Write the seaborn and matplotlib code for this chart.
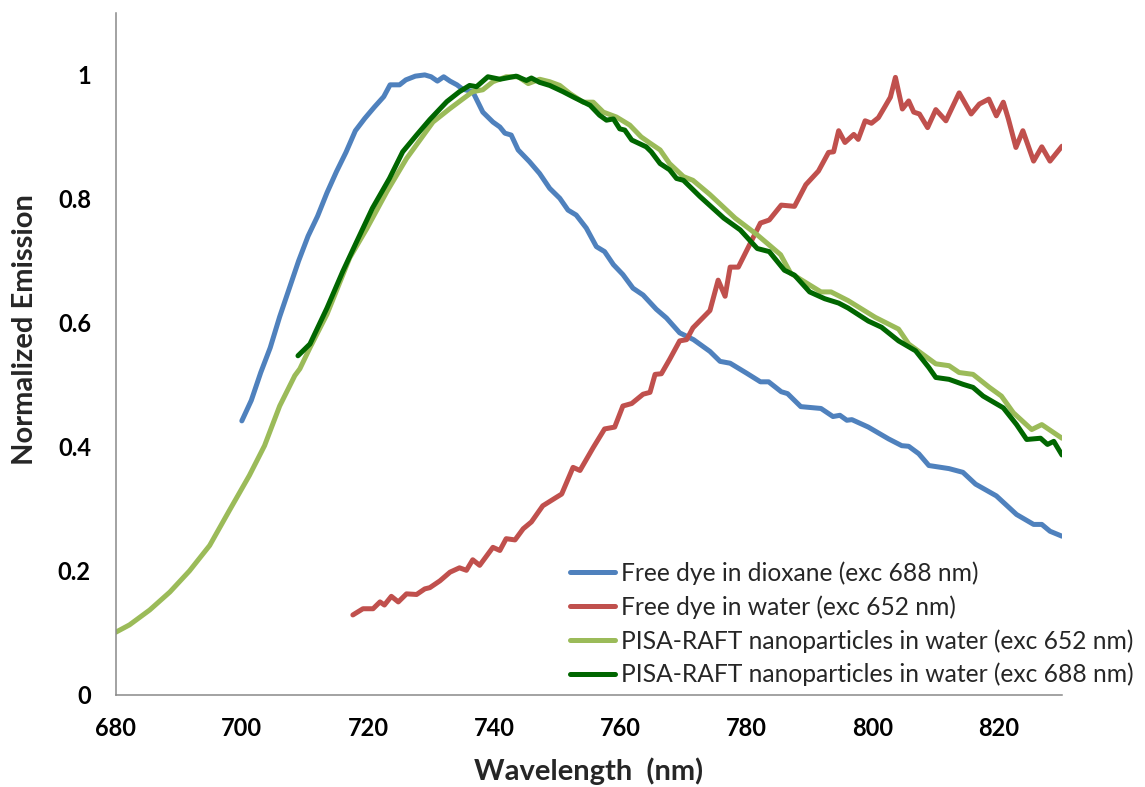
import matplotlib
matplotlib.use("Agg")
import matplotlib.pyplot as plt
import seaborn as sns
import pandas as pd

# Free dye in dioxane (exc 688 nm)
dioxane_nm = [700, 701.5, 703, 704.5, 706, 707.5, 709, 710.5, 712, 713.5, 715, 716.5, 718, 719.5,
              721, 722.5, 723.5, 725, 726, 727.5, 729, 730, 731, 732, 733, 734.1, 735, 736.6,
              738.2, 739.8, 740.9, 741.7, 742.7, 743.8, 745.6, 747.2, 748.8, 750.4, 751.7, 753,
              754.6, 756.2, 757.5, 758.9, 760.4, 762, 763.6, 765.7, 767.3, 769.4, 771.6, 774.2,
              775.8, 777.4, 780, 782.2, 783.5, 785.5, 786.5, 788.6, 791.8, 793.7, 794.8, 795.9,
              796.7, 799.3, 802.5, 804.6, 805.7, 807.3, 808.9, 812.1, 814.3, 816.3, 819.6, 822.8,
              825.5, 826.8, 828.1, 830]
dioxane_em = [0.442, 0.475, 0.52, 0.56, 0.61, 0.655, 0.70, 0.74, 0.772, 0.81, 0.844, 0.875, 0.91, 0.93,
              0.948, 0.965, 0.984, 0.984, 0.992, 0.998, 1.0, 0.997, 0.99, 0.997, 0.99, 0.984, 0.977, 0.973,
              0.94, 0.924, 0.916, 0.906, 0.903, 0.879, 0.86, 0.841, 0.817, 0.801, 0.782, 0.774,
              0.753, 0.723, 0.715, 0.694, 0.678, 0.656, 0.645, 0.622, 0.608, 0.584, 0.573, 0.554,
              0.538, 0.535, 0.519, 0.505, 0.505, 0.489, 0.486, 0.465, 0.462, 0.449, 0.451, 0.443,
              0.444, 0.432, 0.413, 0.402, 0.401, 0.389, 0.37, 0.365, 0.359, 0.34, 0.321, 0.291,
              0.275, 0.275, 0.264, 0.256]

# Free dye in water (exc 652 nm)
water_nm = [717.6, 719.2, 720.8, 721.9, 722.6, 723.7, 724.8, 726.1, 727.7, 729, 729.8, 731.4, 733,
            734.5, 735.6, 736.6, 737.7, 739.8, 740.9, 741.9, 743.3, 744.6, 745.9, 747.7, 749.9,
            750.7, 752.5, 753.6, 755.7, 757.5, 759.1, 760.4, 761.8, 763.6, 764.7, 765.5, 766.5,
            767.8, 769.4, 770.5, 771.5, 774.2, 775.5, 776.6, 777.4, 778.7, 782.2, 783.6, 785.5,
            787.6, 789.4, 791.4, 793, 793.8, 794.6, 795.6, 797, 797.7, 798.8, 799.8, 800.9, 802,
            802.8, 803.6, 804.7, 805.7, 806.5, 807.4, 808.7, 810, 811.6, 813.7, 815.6, 816.9,
            818.4, 819.6, 820.7, 821.5, 822.7, 823.8, 825.5, 826.8, 828.1, 830]
water_em = [0.129, 0.139, 0.139, 0.15, 0.145, 0.159, 0.15, 0.163, 0.162, 0.171, 0.173, 0.184, 0.198,
            0.205, 0.201, 0.218, 0.209, 0.238, 0.233, 0.252, 0.25, 0.268, 0.279, 0.305, 0.319,
            0.324, 0.367, 0.362, 0.399, 0.429, 0.432, 0.466, 0.47, 0.485, 0.488, 0.517, 0.518,
            0.541, 0.571, 0.573, 0.592, 0.62, 0.669, 0.643, 0.69, 0.69, 0.761, 0.766, 0.79,
            0.788, 0.823, 0.845, 0.875, 0.876, 0.91, 0.891, 0.904, 0.896, 0.926, 0.922, 0.931, 0.95,
            0.964, 0.996, 0.945, 0.958, 0.94, 0.937, 0.915, 0.944, 0.926, 0.971, 0.937, 0.953,
            0.961, 0.934, 0.956, 0.929, 0.883, 0.91, 0.861, 0.884, 0.861, 0.885]

# PISA-RAFT nanoparticles in water (exc 652 nm)
np652_nm = [680, 682.2, 685.4, 688.6, 691.7, 694.9, 698, 701.2, 703.6, 706, 708.4, 709.2, 710.8,
            713.5, 717.1, 719.8, 723, 726.1, 730.3, 732.9, 735, 736.6, 738.2, 739.8, 741.9, 743.8,
            745.4, 747.2, 748.8, 750.4, 752, 754.1, 755.7, 757.3, 759.4, 761.5, 763.3, 764.7,
            766.3, 767.8, 770, 771.5, 774.2, 778.2, 781.7, 785.4, 787, 791.8, 793.4, 796.1, 800.4,
            804.1, 805.7, 810, 812.1, 813.7, 815.9, 818.5, 820.4, 822.3, 825.2, 826.8, 830]
np652_em = [0.101, 0.113, 0.137, 0.166, 0.2, 0.241, 0.297, 0.354, 0.402, 0.466, 0.515, 0.526, 0.56,
            0.614, 0.705, 0.752, 0.812, 0.865, 0.924, 0.945, 0.961, 0.973, 0.976, 0.989, 0.997, 0.997,
            0.986, 0.993, 0.989, 0.983, 0.97, 0.956, 0.956, 0.94, 0.932, 0.919, 0.9, 0.89,
            0.879, 0.857, 0.836, 0.83, 0.807, 0.769, 0.742, 0.71, 0.68, 0.65, 0.65, 0.636, 0.609,
            0.59, 0.566, 0.534, 0.531, 0.52, 0.517, 0.496, 0.482, 0.455, 0.428, 0.436, 0.414]

# PISA-RAFT nanoparticles in water (exc 688 nm)
np688_nm = [708.9, 710.8, 713.5, 716, 718.2, 720.7, 723.4, 725.5, 727.7, 729.8, 732.5, 734.5, 736.1,
            737.2, 739, 740.9, 743.5, 745.1, 745.9, 747.2, 748.8, 750.9, 752.8, 755.2, 756.7,
            757.8, 758.9, 759.9, 760.7, 761.8, 764.1, 764.9, 766.3, 767.8, 768.9, 770, 772.6,
            776.4, 779, 781.7, 783.6, 786, 787.6, 790, 792.4, 794.6, 796.1, 799.3, 801.4, 804.1,
            806.8, 808.9, 810, 812.1, 814.3, 815.9, 817.5, 820.7, 822.8, 824.4, 826.6, 827.7,
            828.7, 830]
np688_em = [0.547, 0.566, 0.624, 0.683, 0.731, 0.785, 0.833, 0.876, 0.903, 0.928, 0.957, 0.973, 0.983,
            0.981, 0.997, 0.993, 0.998, 0.991, 0.995, 0.988, 0.983, 0.973, 0.963, 0.951, 0.935,
            0.927, 0.929, 0.913, 0.911, 0.895, 0.884, 0.876, 0.857, 0.847, 0.833, 0.83, 0.804,
            0.769, 0.75, 0.72, 0.715, 0.685, 0.677, 0.65, 0.639, 0.632, 0.624, 0.603, 0.593, 0.571,
            0.555, 0.528, 0.512, 0.509, 0.501, 0.496, 0.482, 0.463, 0.436, 0.412, 0.414, 0.404,
            0.409, 0.387]

series = [
    ("Free dye in dioxane (exc 688 nm)", dioxane_nm, dioxane_em, "#4F81BD"),
    ("Free dye in water (exc 652 nm)", water_nm, water_em, "#C0504D"),
    ("PISA-RAFT nanoparticles in water (exc 652 nm)", np652_nm, np652_em, "#9BBB59"),
    ("PISA-RAFT nanoparticles in water (exc 688 nm)", np688_nm, np688_em, "#006600"),
]

x_ticks = [680, 700, 720, 740, 760, 780, 800, 820]
y_ticks = [0, 0.2, 0.4, 0.6, 0.8, 1]
y_tick_labels = ["0", "0.2", "0.4", "0.6", "0.8", "1"]

sns.set_style("white")
plt.rcParams["font.family"] = ["Lato", "DejaVu Sans"]

fig = plt.figure(figsize=(11.45, 7.87), dpi=100)
ax = fig.add_axes([0.101, 0.117, 0.8265, 0.8666])

for name, xs, ys, col in series:
    df = pd.DataFrame({"Wavelength": xs, "Emission": ys})
    sns.lineplot(data=df, x="Wavelength", y="Emission", ax=ax, color=col,
                 linewidth=3.6, label=name)

ax.set_xlim(680, 830)
ax.set_ylim(0, 1.1)
ax.set_xticks(x_ticks)
ax.set_xticklabels([str(t) for t in x_ticks])
ax.set_yticks(y_ticks)
ax.set_yticklabels(y_tick_labels)

for s in ["top", "right"]:
    ax.spines[s].set_visible(False)
for s in ["left", "bottom"]:
    ax.spines[s].set_color("#898989")
    ax.spines[s].set_linewidth(1.1)
ax.tick_params(axis="both", direction="out", length=5.8, width=1.1, color="#898989",
               labelsize=17, labelcolor="black")
ax.tick_params(axis="x", pad=10)
ax.tick_params(axis="y", pad=12)
for lab in ax.get_xticklabels() + ax.get_yticklabels():
    lab.set_fontweight("bold")

ax.set_xlabel("Wavelength  (nm)", fontsize=21, fontweight="bold")
ax.set_ylabel("Normalized Emission", fontsize=21, fontweight="bold")
ax.xaxis.set_label_coords(0.5, -0.092)
ax.yaxis.set_label_coords(-0.0825, 0.535)

ax.legend(loc="upper left", bbox_to_anchor=(0.4978, 0.287), bbox_transform=fig.transFigure,
          frameon=False, fontsize=17.7, borderpad=0, borderaxespad=0, handlelength=1.83,
          handletextpad=0.25, labelspacing=0.42)

fig.savefig("out.png", dpi=100)
